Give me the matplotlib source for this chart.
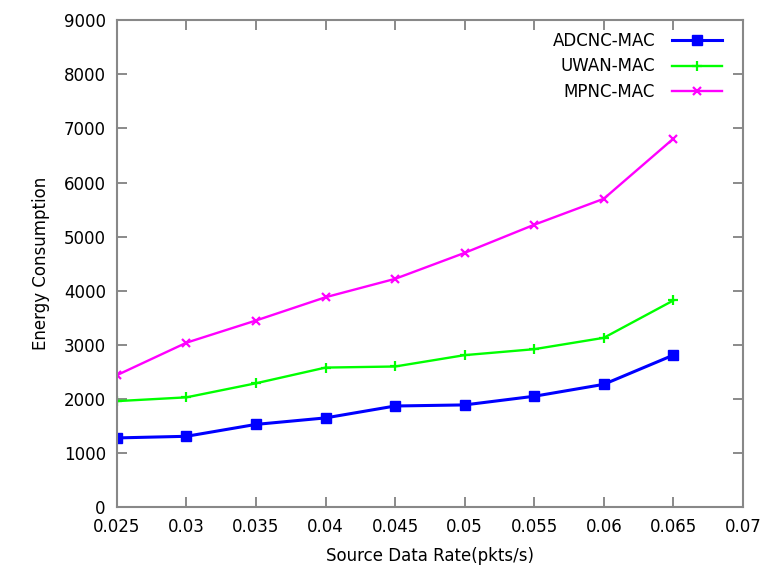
import numpy as np
import matplotlib
matplotlib.use("Agg")
import matplotlib.pyplot as plt

# data
rates = [0.025, 0.03, 0.035, 0.04, 0.045, 0.05, 0.055, 0.06, 0.065]
adcnc = [1280, 1310, 1530, 1650, 1870, 1890, 2050, 2270, 2810]
uwan  = [1960, 2030, 2290, 2580, 2600, 2810, 2920, 3130, 3820]
mpnc  = [2440, 3040, 3450, 3880, 4220, 4700, 5220, 5700, 6810]

xticks = [0.025, 0.03, 0.035, 0.04, 0.045, 0.05, 0.055, 0.06, 0.065, 0.07]
xtick_labels = ["0.025", "0.03", "0.035", "0.04", "0.045", "0.05", "0.055", "0.06", "0.065", "0.07"]
yticks = list(range(0, 9001, 1000))

plt.rcParams["font.family"] = "DejaVu Sans"

fig = plt.figure(figsize=(7.69, 5.77), dpi=100)
ax = fig.add_axes([0.152, 0.121, 0.814, 0.844])

ax.plot(rates, adcnc, color="#0000ff", lw=2.2, marker="s", ms=6.5, label="ADCNC-MAC")
ax.plot(rates, uwan, color="#00ff00", lw=1.7, marker="+", ms=7, mew=1.6, label="UWAN-MAC")
ax.plot(rates, mpnc, color="#ff00ff", lw=1.7, marker="x", ms=6, mew=1.6, label="MPNC-MAC")

ax.set_xlim(0.025, 0.07)
ax.set_ylim(0, 9000)
ax.set_xticks(xticks)
ax.set_xticklabels(xtick_labels)
ax.set_yticks(yticks)
ax.tick_params(direction="in", top=True, right=True, length=7, width=1.2,
               color="#777777", labelsize=12, pad=8)
for sp in ax.spines.values():
    sp.set_color("#888888")
    sp.set_linewidth(1.5)

ax.set_xlabel("Source Data Rate(pkts/s)", fontsize=12, labelpad=8)
ax.set_ylabel("Energy Consumption", fontsize=12, labelpad=10)

leg = ax.legend(loc="upper right", frameon=False, markerfirst=False, fontsize=12,
                handlelength=3.0, handletextpad=1.0, labelspacing=0.45,
                borderaxespad=0.3, bbox_to_anchor=(0.985, 1.0))

fig.savefig("out.png", dpi=100)
